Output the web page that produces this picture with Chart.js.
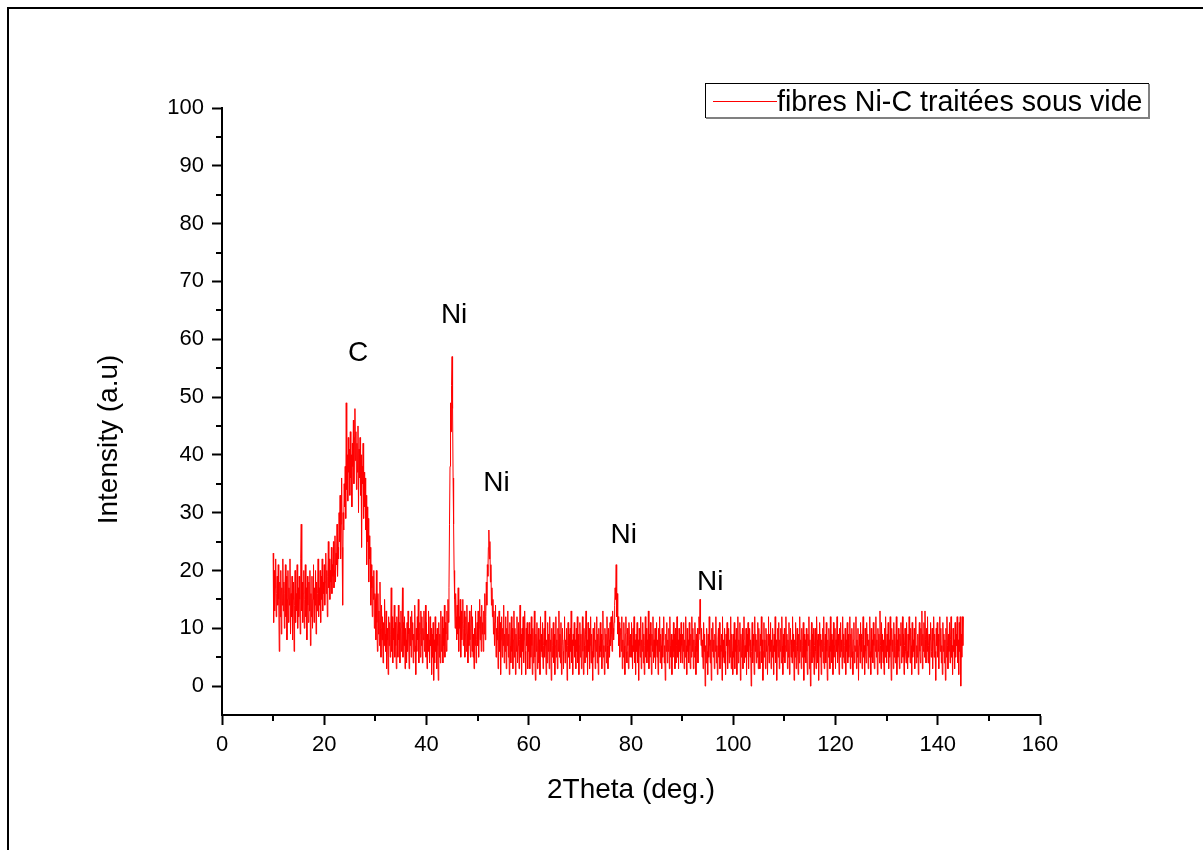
<!DOCTYPE html>
<html>
<head>
<meta charset="utf-8">
<title>XRD fibres Ni-C</title>
<script src="https://cdn.jsdelivr.net/npm/chart.js@4/dist/chart.umd.min.js"></script>
<style>
  html, body { margin: 0; padding: 0; background: #fff; }
  canvas { display: block; }
</style>
</head>
<body>
<canvas id="xrdChart" width="1203" height="850"></canvas>
<script>
// scan grid (2theta, degrees)
const twoThetaStart = 10;
const twoThetaStep = 0.1;

// intensities, one row per degree, one block per 10 degrees
const counts10 = [
  23,11,20,13,17,22,12,16,19,14,
  21,15,6,18,12,20,9,17,14,22,
  13,18,10,16,21,12,19,8,15,20,
  11,17,14,22,9,16,12,19,8,15,
  18,6,14,20,11,16,13,21,10,17,
  12,19,15,9,22,28,13,18,11,16,
  20,10,15,21,12,17,8,19,14,11,
  18,13,20,7,16,12,19,10,15,21,
  11,17,14,20,9,18,13,16,22,12,
  17,14,20,11,19,15,22,13,18,16];
const counts20 = [
  21,14,18,23,16,20,12,19,25,17,
  22,15,20,18,24,16,21,19,25,17,
  20,26,18,23,21,28,19,24,22,30,
  25,33,22,28,36,24,14,30,27,35,
  31,38,29,49,34,40,32,43,37,41,
  33,44,36,40,31,42,38,46,35,43,
  48,39,44,34,42,37,45,30,41,36,
  43,33,40,24,38,35,42,29,37,31,
  36,27,33,21,31,25,29,18,26,22,
  24,14,21,17,12,19,15,20,10,16];
const counts30 = [
  15,8,20,11,6,16,9,13,7,18,
  10,5,14,8,12,4,11,7,15,9,
  6,13,3,10,8,2,12,7,11,5,
  9,17,6,12,4,10,8,14,5,11,
  7,3,12,9,5,14,8,11,4,10,
  13,6,9,17,5,11,7,12,3,10,
  8,4,11,6,13,9,3,10,7,12,
  5,13,8,11,4,9,6,14,7,2,
  10,6,12,8,15,4,9,11,5,13,
  7,12,4,10,8,13,6,9,14,5];
const counts40 = [
  11,3,9,6,13,8,4,12,7,10,
  2,9,5,11,1,8,4,12,6,9,
  3,10,7,1,11,5,9,4,13,6,
  8,12,4,10,7,14,5,11,9,6,
  13,8,15,11,17,28,38,49,44,52,
  57,48,36,28,20,15,10,16,12,8,
  14,9,17,6,12,10,15,5,13,8,
  11,15,7,10,13,5,9,12,6,14,
  9,4,11,7,13,8,5,10,14,6,
  12,5,9,3,10,7,13,4,8,11];
const counts50 = [
  7,13,5,10,15,8,12,6,14,9,
  11,6,13,9,16,8,12,18,14,21,
  19,24,27,22,25,18,21,14,17,12,
  15,9,13,7,11,14,5,10,8,12,
  3,9,13,6,11,2,8,12,5,10,
  7,14,4,9,6,12,3,10,7,13,
  5,9,2,11,7,4,12,6,10,3,
  8,13,5,10,2,9,6,12,4,7,
  11,3,8,14,5,9,2,10,6,12,
  4,8,13,6,2,10,7,11,3,9];
const counts60 = [
  6,11,3,9,5,12,7,2,10,4,
  8,13,5,1,9,6,11,3,7,10,
  4,8,2,12,6,9,5,11,3,7,
  10,5,13,7,2,8,4,11,6,9,
  3,12,6,8,1,10,5,7,11,4,
  9,2,7,12,5,8,3,10,6,13,
  5,9,4,11,2,7,10,6,3,8,
  12,4,8,6,10,1,7,11,5,9,
  3,10,6,13,4,8,2,9,7,11,
  5,8,3,10,6,12,4,9,2,7];
const counts70 = [
  11,5,9,3,8,12,6,2,10,7,
  4,9,13,5,8,2,11,6,10,3,
  7,12,4,9,6,1,10,5,8,11,
  3,8,6,12,4,9,2,10,7,5,
  11,6,9,3,8,13,5,7,2,10,
  6,9,4,12,7,3,10,8,5,11,
  7,12,9,6,13,10,8,11,14,17,
  15,21,12,16,9,12,7,11,5,9,
  10,6,12,3,8,5,11,7,2,9,
  12,6,4,10,7,3,11,8,5,9];
const counts80 = [
  5,11,7,3,10,6,12,4,8,2,
  9,6,11,4,8,1,10,7,5,12,
  3,8,6,11,4,9,2,7,12,5,
  10,4,8,6,13,3,9,5,11,7,
  2,9,6,12,4,8,5,10,3,7,
  11,5,8,2,10,6,12,4,9,7,
  3,10,5,8,12,4,7,1,9,6,
  11,4,8,6,10,3,12,7,5,9,
  2,8,5,11,6,9,3,10,4,7,
  12,5,8,3,10,6,9,4,11,7];
const counts90 = [
  4,9,6,11,3,8,5,12,7,2,
  10,6,8,4,11,7,3,9,5,12,
  6,10,3,8,5,11,7,2,9,6,
  10,4,8,12,9,15,11,7,10,5,
  8,3,11,6,9,0,7,4,10,6,
  2,9,5,12,7,4,8,1,10,6,
  11,5,8,3,9,6,12,4,7,2,
  8,10,5,11,3,7,6,9,1,12,
  5,8,4,10,6,2,9,7,11,3,
  7,10,4,8,5,12,3,9,6,2];
const counts100 = [
  9,5,11,3,8,6,10,2,7,12,
  4,8,6,11,1,9,5,7,10,3,
  8,12,4,7,5,10,2,9,6,11,
  3,7,10,5,8,0,6,11,4,9,
  7,2,12,6,9,4,8,5,11,3,
  10,6,3,9,7,12,4,8,1,6,
  11,5,8,3,10,6,9,2,7,12,
  4,9,6,11,3,8,5,10,7,2,
  9,6,12,4,8,1,7,10,5,11,
  3,8,6,10,4,12,7,2,9,5];
const counts110 = [
  10,4,7,12,6,9,3,8,5,11,
  2,7,10,5,8,4,12,6,9,1,
  8,5,11,3,7,10,6,2,9,4,
  12,6,8,3,10,5,7,11,1,9,
  5,8,4,10,6,2,9,7,12,3,
  8,0,6,11,4,9,5,10,2,7,
  10,6,3,12,8,4,9,1,7,11,
  5,9,2,8,6,10,4,12,3,7,
  9,4,11,6,1,8,5,10,7,3,
  12,6,9,4,8,2,11,5,7,10];
const counts120 = [
  3,8,6,12,4,9,7,2,10,5,
  11,6,8,3,12,5,9,4,7,10,
  2,8,6,11,4,9,5,7,12,3,
  9,5,10,6,2,8,11,4,7,6,
  12,3,8,5,10,1,7,9,4,11,
  6,9,3,8,12,5,7,2,10,6,
  4,11,7,9,3,8,5,12,6,2,
  10,5,8,4,11,7,3,9,6,12,
  5,8,2,10,6,9,4,13,7,3,
  11,6,9,4,8,2,10,5,12,7];
const counts130 = [
  4,9,6,11,3,8,5,12,7,1,
  10,6,8,3,11,5,9,4,7,12,
  2,8,5,10,6,3,9,7,11,4,
  8,12,5,9,2,7,10,6,4,11,
  6,3,9,5,12,8,4,10,7,2,
  11,5,8,6,10,3,9,12,4,7,
  5,9,2,8,11,6,4,10,7,13,
  3,9,6,11,5,13,8,4,10,6,
  12,4,7,9,2,8,11,5,6,10,
  3,8,12,5,9,6,1,10,7,11];
const counts140 = [
  5,9,3,8,12,6,10,4,7,2,
  11,6,9,4,8,1,10,5,12,7,
  3,9,6,11,4,8,12,5,7,2,
  10,6,8,3,11,5,9,7,12,4,
  8,2,11,6,12,0,9,5,12,7,
  12];

const seriesLabel = 'fibres Ni-C traitées sous vide';

// axes
const xMajorTicks = [0, 20, 40, 60, 80, 100, 120, 140, 160];
const xTickLabels = ['0', '20', '40', '60', '80', '100', '120', '140', '160'];
const xMinorTicks = [10, 30, 50, 70, 90, 110, 130, 150];
const yMajorTicks = [0, 10, 20, 30, 40, 50, 60, 70, 80, 90, 100];
const yTickLabels = ['0', '10', '20', '30', '40', '50', '60', '70', '80', '90', '100'];
const yMinorTicks = [5, 15, 25, 35, 45, 55, 65, 75, 85, 95];
const xAxisTitle = '2Theta (deg.)';
const yAxisTitle = 'Intensity (a.u)';

// peak annotations (label, 2theta, intensity)
const peakLabels = ['C', 'Ni', 'Ni', 'Ni', 'Ni'];
const peakLabelX = [26.6, 45.4, 53.7, 78.6, 95.5];
const peakLabelY = [57.6, 64.2, 35.0, 26.1, 18.0];

const FONT = '"Liberation Sans", Arial, sans-serif';

const intensity = [].concat(counts10, counts20, counts30, counts40, counts50, counts60,
  counts70, counts80, counts90, counts100, counts110, counts120, counts130, counts140);
const points = intensity.map((v, i) => ({ x: twoThetaStart + i * twoThetaStep, y: v }));

// frame, minor ticks, titles, peak labels and legend box
const extras = {
  id: 'extras',
  beforeDraw(chart) {
    const ctx = chart.ctx;
    ctx.save();
    ctx.fillStyle = '#fff';
    ctx.fillRect(0, 0, chart.width, chart.height);
    ctx.strokeStyle = '#000';
    ctx.lineWidth = 2;
    ctx.beginPath();
    ctx.moveTo(7, 8); ctx.lineTo(chart.width, 8);
    ctx.moveTo(8, 7); ctx.lineTo(8, chart.height);
    ctx.stroke();
    ctx.restore();
  },
  afterDraw(chart) {
    const ctx = chart.ctx;
    const xs = chart.scales.x, ys = chart.scales.y, area = chart.chartArea;
    ctx.save();

    ctx.strokeStyle = '#000';
    ctx.lineWidth = 2;
    ctx.beginPath();
    xMinorTicks.forEach(v => {
      const px = Math.round(xs.getPixelForValue(v));
      ctx.moveTo(px, area.bottom); ctx.lineTo(px, area.bottom + 6);
    });
    yMinorTicks.forEach(v => {
      const py = Math.round(ys.getPixelForValue(v));
      ctx.moveTo(area.left, py); ctx.lineTo(area.left - 6, py);
    });
    ctx.stroke();

    ctx.fillStyle = '#000';
    ctx.font = '28px ' + FONT;
    ctx.textAlign = 'center';
    ctx.textBaseline = 'middle';
    ctx.fillText(xAxisTitle, (area.left + area.right) / 2, area.bottom + 75);
    ctx.save();
    ctx.translate(area.left - 113, (area.top + area.bottom) / 2 + 28);
    ctx.rotate(-Math.PI / 2);
    ctx.fillText(yAxisTitle, 0, 0);
    ctx.restore();

    peakLabels.forEach((t, i) => {
      ctx.fillText(t, xs.getPixelForValue(peakLabelX[i]), ys.getPixelForValue(peakLabelY[i]));
    });

    // legend
    const lx = 705, ly = 83, lw = 443, lh = 34;
    ctx.fillStyle = '#fff';
    ctx.fillRect(lx, ly, lw, lh);
    ctx.lineWidth = 1;
    ctx.strokeStyle = '#000';
    ctx.strokeRect(lx + 0.5, ly + 0.5, lw, lh);
    ctx.strokeStyle = '#808080';
    ctx.lineWidth = 2;
    ctx.beginPath();
    ctx.moveTo(lx + lw + 1, ly + 1); ctx.lineTo(lx + lw + 1, ly + lh + 1); ctx.lineTo(lx + 1, ly + lh + 1);
    ctx.stroke();
    ctx.strokeStyle = '#ff0000';
    ctx.lineWidth = 1;
    ctx.beginPath();
    ctx.moveTo(lx + 8, ly + 18.5); ctx.lineTo(lx + 72, ly + 18.5);
    ctx.stroke();
    ctx.fillStyle = '#000';
    ctx.font = '28.6px ' + FONT;
    ctx.textAlign = 'left';
    ctx.textBaseline = 'alphabetic';
    ctx.fillText(seriesLabel, lx + 72, ly + 28);

    ctx.restore();
  }
};

new Chart(document.getElementById('xrdChart').getContext('2d'), {
  type: 'line',
  data: {
    datasets: [{
      label: seriesLabel,
      data: points,
      borderColor: '#ff0000',
      borderWidth: 1,
      pointRadius: 0,
      tension: 0,
      fill: false
    }]
  },
  options: {
    responsive: false,
    devicePixelRatio: 1,
    animation: false,
    layout: { padding: { top: 108, right: 163, left: 0, bottom: 0 } },
    plugins: { legend: { display: false }, tooltip: { enabled: false } },
    scales: {
      x: {
        type: 'linear',
        min: 0,
        max: 160,
        afterBuildTicks: s => { s.ticks = xMajorTicks.map(v => ({ value: v })); },
        afterFit: s => { s.height = 135; },
        border: { color: '#000', width: 2 },
        grid: { drawOnChartArea: false, tickLength: 10, tickWidth: 2, tickColor: '#000', color: '#000' },
        ticks: {
          color: '#000',
          font: { family: FONT, size: 22 },
          padding: 7,
          maxRotation: 0,
          autoSkip: false,
          callback: (v, i) => xTickLabels[i]
        }
      },
      y: {
        type: 'linear',
        min: -5,
        max: 100,
        afterBuildTicks: s => { s.ticks = yMajorTicks.map(v => ({ value: v })); },
        afterFit: s => { s.width = 222; },
        border: { color: '#000', width: 2 },
        grid: { drawOnChartArea: false, tickLength: 10, tickWidth: 2, tickColor: '#000', color: '#000' },
        ticks: {
          color: '#000',
          font: { family: FONT, size: 22 },
          padding: 8,
          autoSkip: false,
          callback: (v, i) => yTickLabels[i]
        }
      }
    }
  },
  plugins: [extras]
});
</script>
</body>
</html>
